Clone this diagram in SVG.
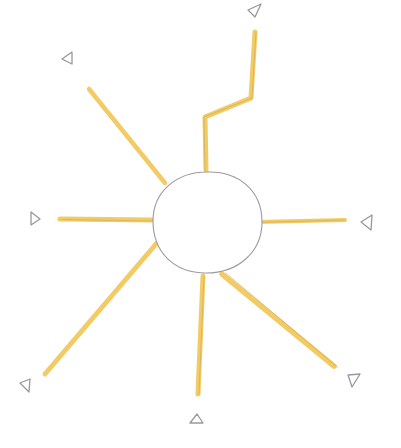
<svg xmlns="http://www.w3.org/2000/svg" width="401" height="448" viewBox="0 0 401 448">
<style>
.ray{fill:none;stroke:#f0c24a;stroke-width:5;stroke-linecap:round;stroke-linejoin:round;opacity:0.85}
.core{fill:none;stroke:#b89a55;stroke-width:0.7;stroke-linecap:round;stroke-linejoin:round;opacity:0.6}
.tri{fill:#fff;stroke:#999;stroke-width:1.3;stroke-linejoin:round}
.hub{fill:#fff;stroke:#9a9aa4;stroke-width:1.1}
</style>
<rect width="401" height="448" fill="#fff"/>
<g id="connectors">
<polyline class="ray" points="255,32 251,98 205,117 206,170"/>
<polyline class="core" points="256,32 252,98 204,117 205,172"/>
<line class="ray" x1="89" y1="89" x2="165" y2="183" style="stroke-width:4.5"/>
<line class="ray" x1="60" y1="219" x2="152" y2="220"/>
<line class="core" x1="62" y1="219.5" x2="153" y2="221"/>
<line class="ray" x1="256" y1="222" x2="345" y2="220" style="stroke-width:4"/>
<line class="core" x1="256" y1="222.5" x2="345" y2="220"/>
<line class="ray" x1="156" y1="244" x2="45" y2="374"/>
<line class="ray" x1="203" y1="276" x2="198" y2="394"/>
<line class="core" x1="204" y1="276" x2="199" y2="394"/>
<line class="ray" x1="222" y1="274" x2="334" y2="366" style="stroke-width:5.5"/>
<line class="core" x1="226" y1="273" x2="338" y2="368"/>
</g>
<g id="hub">
<path class="hub" d="M207,172 C238,171 262,190 262,222 C262,252 238,273 206,273 C174,273 153,252 153,221 C153,192 176,172 207,172 Z"/>
</g>
<g id="end-top"><path class="tri" d="M248,10 L261,4 L255,17 Z"/></g>
<g id="end-upper-left"><path class="tri" d="M62,59 L72,52 L72,64 Z"/></g>
<g id="end-left"><path class="tri" d="M31,212 L40,219 L31,225 Z"/></g>
<g id="end-right"><path class="tri" d="M361,222 L372,215 L371,230 Z"/></g>
<g id="end-lower-left"><path class="tri" d="M20,383 L30,379 L29,392 Z"/></g>
<g id="end-bottom"><path class="tri" d="M197,414 L203,423 L190,423 Z"/></g>
<g id="end-lower-right"><path class="tri" d="M348,375 L360,374 L352,387 Z"/></g>
</svg>
